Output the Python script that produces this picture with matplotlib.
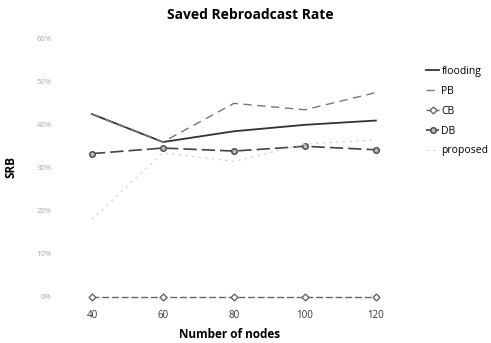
import matplotlib.pyplot as plt
from matplotlib.ticker import FuncFormatter

plt.rcParams['font.family'] = ['Open Sans', 'DejaVu Sans']

# data
nodes = [40, 60, 80, 100, 120]
flooding = [42.5, 36.0, 38.5, 40.0, 41.0]
pb = [42.5, 36.0, 45.0, 43.5, 47.5]
cb = [0.0, 0.0, 0.0, 0.0, 0.0]
db = [33.3, 34.6, 33.9, 35.0, 34.2]
proposed = [18.0, 33.5, 31.5, 35.5, 36.5]
y_ticks = [0, 10, 20, 30, 40, 50, 60]

fig = plt.figure(figsize=(4.91, 3.43), dpi=100)
ax = fig.add_axes([60 / 491, 0.111, 340 / 491, 0.802])

ax.plot(nodes, flooding, color='#333333', lw=1.3, linestyle='-', label='flooding')
ax.plot(nodes, pb, color='#777777', lw=1.0, linestyle=(0, (6, 4)), label='PB')
ax.plot(nodes, cb, color='#666666', lw=1.0, linestyle=(0, (5, 2)), marker='D',
        markersize=3.5, markerfacecolor='white', label='CB')
ax.plot(nodes, db, color='#444444', lw=1.2, linestyle=(0, (8, 3)), marker='o',
        markersize=4, markerfacecolor='#bbbbbb', label='DB')
ax.plot(nodes, proposed, color='#cccccc', lw=0.8, linestyle=(0, (2, 4)), label='proposed')

ax.set_xlim(31, 126.8)
ax.set_ylim(-1.9, 62.1)
ax.set_xticks(nodes)
ax.set_yticks(y_ticks)
ax.yaxis.set_major_formatter(FuncFormatter(lambda v, p: '%d%%' % v))
ax.tick_params(axis='x', length=0, labelsize=7, colors='#333333', pad=4)
ax.tick_params(axis='y', length=0, labelsize=5.5, colors='#aaaaaa', pad=6)
for s in ax.spines.values():
    s.set_visible(False)

ax.set_xlabel('Number of nodes', fontsize=8.5, fontweight='bold', labelpad=5)
ax.set_ylabel('SRB', fontsize=8.5, fontweight='bold', labelpad=14)
fig.text(0.51, 0.955, 'Saved Rebroadcast Rate', ha='center', va='center',
         fontsize=10, fontweight='bold')

fig.legend(loc='upper left', bbox_to_anchor=(0.848, 0.835), frameon=False,
           fontsize=7.5, handlelength=1.3, handletextpad=0.2, labelspacing=0.85)

plt.savefig('out.png', dpi=100)
